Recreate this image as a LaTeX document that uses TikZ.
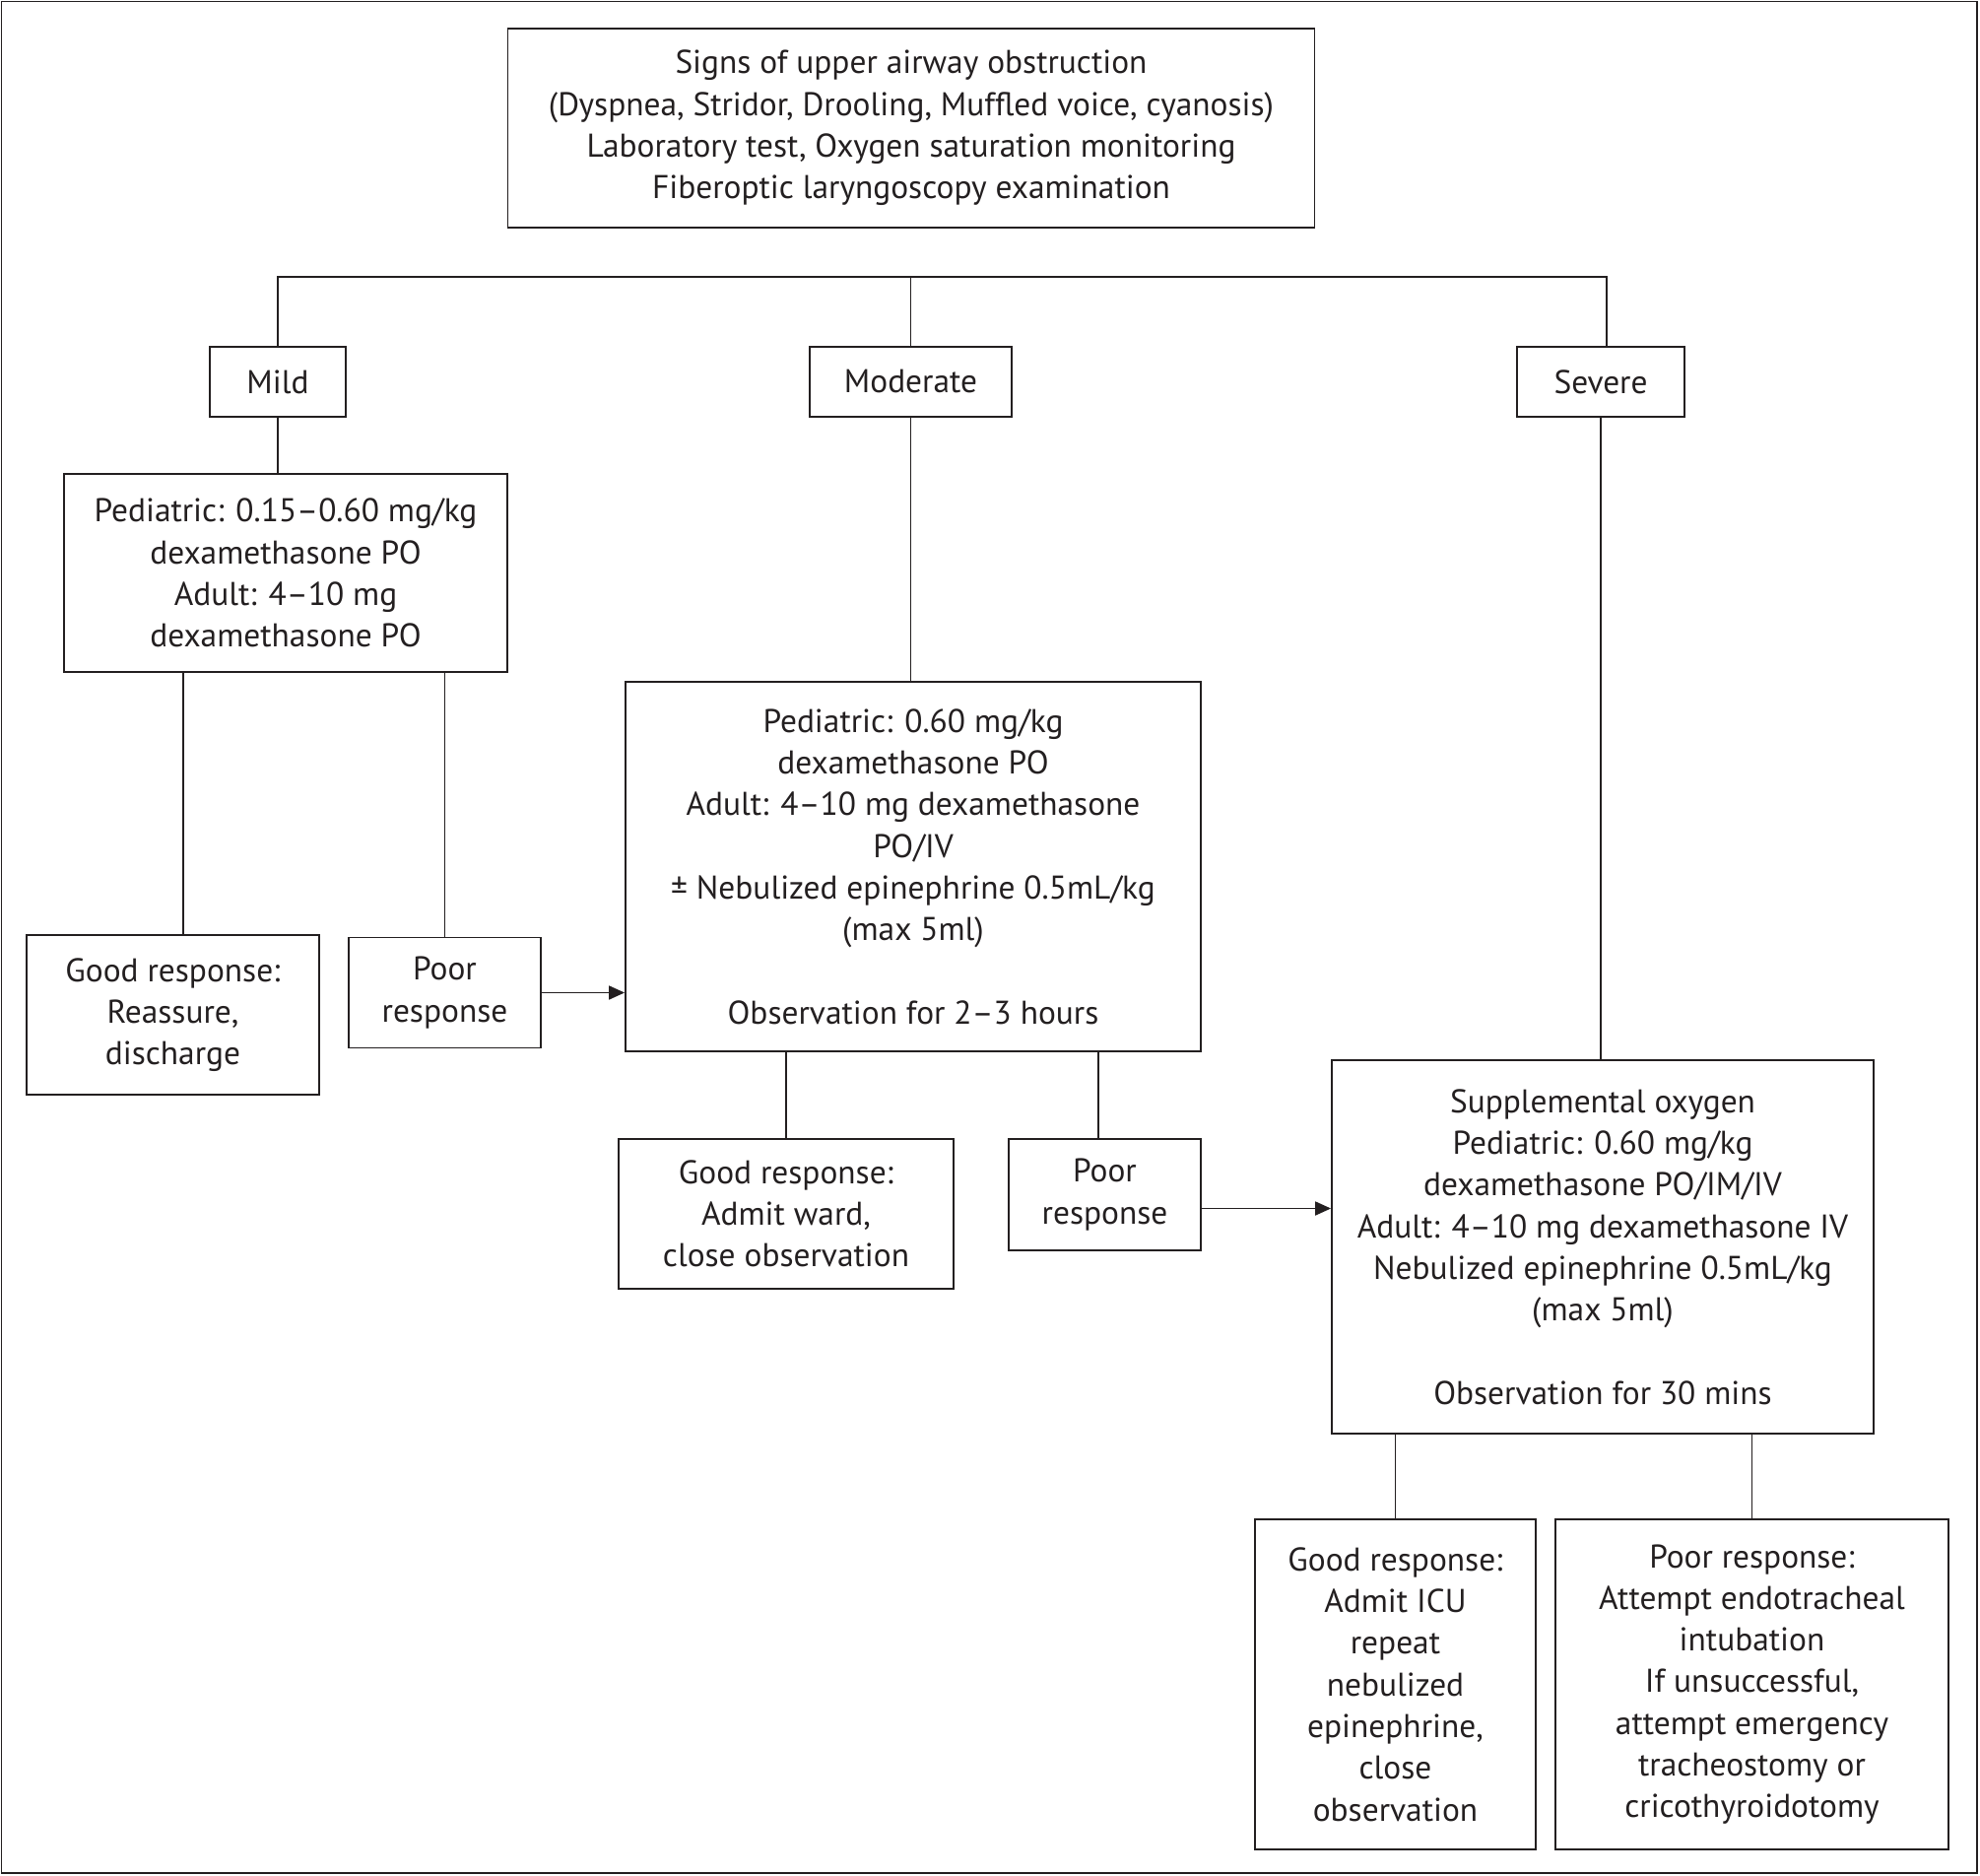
\documentclass[tikz,border=0pt]{standalone}
\usepackage{fontspec}
\setmainfont{PT Sans}
\usetikzlibrary{arrows.meta}
\definecolor{ink}{HTML}{231F20}
\begin{document}
\begin{tikzpicture}[x=0.5pt,y=-0.5pt,
  box/.style={draw=ink,line width=0.9pt,align=center,inner sep=0pt,text=ink,
    font=\fontsize{16.7}{21.15}\selectfont},
  link/.style={draw=ink,line width=0.9pt},
  arr/.style={link,-{Triangle[length=8pt,width=7pt]}}]
\useasboundingbox (0,0) rectangle (2010,1904);
\draw[ink,line width=0.8pt] (1.5,1.5) rectangle (2007,1901);

\node[box,minimum width=409.5pt,minimum height=101pt] (top) at (925,130)
 {Signs of upper airway obstruction\\(Dyspnea, Stridor, Drooling, Muffled voice, cyanosis)\\Laboratory test, Oxygen saturation monitoring\\Fiberoptic laryngoscopy examination};

\node[box,minimum width=69pt,minimum height=35.5pt] (mild) at (282,387.5) {Mild};
\node[box,minimum width=102.5pt,minimum height=35.5pt] (moderate) at (924.5,387.5) {Moderate};
\node[box,minimum width=85pt,minimum height=35.5pt] (severe) at (1625,387.5) {Severe};

\node[box,minimum width=225pt,minimum height=100.5pt] (mildT) at (290,581.5)
 {Pediatric: 0.15–0.60 mg/kg\\dexamethasone PO\\Adult: 4–10 mg\\dexamethasone PO};
\node[box,minimum width=148.5pt,minimum height=81pt] (mildGood) at (175.5,1030)
 {Good response:\\Reassure,\\discharge};
\node[box,minimum width=97.5pt,minimum height=56pt] (mildPoor) at (451.5,1007.5)
 {Poor\\response};

\node[box,minimum width=292pt,minimum height=187.5pt] (modT) at (927,879.5)
 {Pediatric: 0.60 mg/kg\\dexamethasone PO\\Adult: 4–10 mg dexamethasone\\PO/IV\\± Nebulized epinephrine 0.5mL/kg\\(max 5ml)\\[21.15pt]Observation for 2–3 hours};
\node[box,minimum width=170pt,minimum height=76pt] (modGood) at (798,1232)
 {Good response:\\Admit ward,\\close observation};
\node[box,minimum width=97.5pt,minimum height=56.5pt] (modPoor) at (1121.5,1212.5)
 {Poor\\response};

\node[box,minimum width=275pt,minimum height=189.5pt] (sevT) at (1627,1265.5)
 {Supplemental oxygen\\Pediatric: 0.60 mg/kg\\dexamethasone PO/IM/IV\\Adult: 4–10 mg dexamethasone IV\\Nebulized epinephrine 0.5mL/kg\\(max 5ml)\\[21.15pt]Observation for 30 mins};
\node[box,minimum width=142.5pt,minimum height=167.5pt] (sevGood) at (1416.5,1709.5)
 {Good response:\\Admit ICU\\repeat\\nebulized\\epinephrine,\\close\\observation};
\node[box,minimum width=199.5pt,minimum height=167.5pt] (sevPoor) at (1778.5,1709.5)
 {Poor response:\\Attempt endotracheal\\intubation\\If unsuccessful,\\attempt emergency\\tracheostomy or\\cricothyroidotomy};

\coordinate (bl) at (283,281);
\coordinate (br) at (1631,281);
\draw[link] (mild.north) -- (mild.north |- bl) -- (br) -- (br |- severe.north);
\draw[link] (moderate.north) -- (moderate.north |- bl);

\draw[link] (mild.south) -- (mild.south |- mildT.north);
\draw[link] ([xshift=5.25pt]mildGood.north) -- ([xshift=5.25pt]mildGood.north |- mildT.south);
\draw[link] (mildPoor.north) -- (mildPoor.north |- mildT.south);
\draw[arr] (mildPoor.east) -- (mildPoor.east -| modT.west);

\draw[link] (moderate.south) -- (moderate.south |- modT.north);
\draw[link] (modGood.north) -- (modGood.north |- modT.south);
\draw[link] ([xshift=-3.25pt]modPoor.north) -- ([xshift=-3.25pt]modPoor.north |- modT.south);
\draw[arr] ([yshift=-7pt]modPoor.east) -- ([yshift=-7pt]modPoor.east -| sevT.west);

\draw[link] (severe.south) -- (severe.south |- sevT.north);
\draw[link] (sevGood.north) -- (sevGood.north |- sevT.south);
\draw[link] (sevPoor.north) -- (sevPoor.north |- sevT.south);
\end{tikzpicture}
\end{document}
